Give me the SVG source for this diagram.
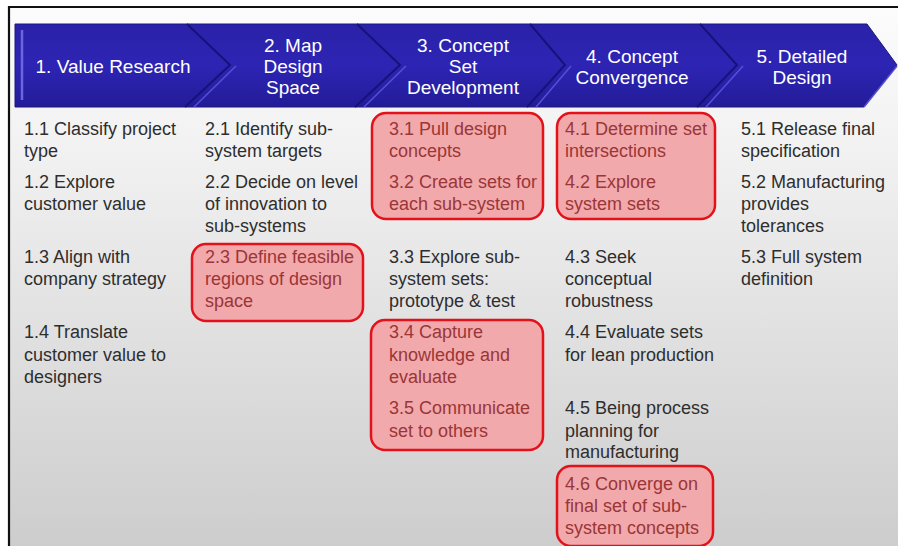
<svg xmlns="http://www.w3.org/2000/svg" width="898" height="546" viewBox="0 0 898 546">
<defs>
<linearGradient id="bg" x1="0" y1="0" x2="0" y2="1">
<stop offset="0" stop-color="#fcfcfc"/>
<stop offset="0.25" stop-color="#f2f2f2"/>
<stop offset="0.55" stop-color="#e3e3e3"/>
<stop offset="1" stop-color="#cdcdcd"/>
</linearGradient>
<linearGradient id="hd" x1="0" y1="0" x2="0" y2="1">
<stop offset="0" stop-color="#2a22a8"/>
<stop offset="0.5" stop-color="#2d24b4"/>
<stop offset="1" stop-color="#231c98"/>
</linearGradient>
<style>
.h{font-family:"Liberation Sans",Arial,sans-serif;font-size:19px;fill:#ffffff;text-anchor:middle}
.t{font-family:"Liberation Sans",Arial,sans-serif;font-size:18px;fill:#2e2e2e}
.r{fill:#f2a9ab;stroke:#e3121a;stroke-width:2.5}
.rt{font-family:"Liberation Sans",Arial,sans-serif;font-size:18px;fill:#9a3638}
.sd{fill:none;stroke:#17127a;stroke-width:2}
.sl{fill:none;stroke:#5550d6;stroke-width:1.5}
</style>
</defs>
<rect x="0" y="0" width="898" height="546" fill="#ffffff"/>
<rect x="10" y="8" width="888" height="538" fill="url(#bg)"/>
<line x1="9" y1="7" x2="898" y2="7" stroke="#111" stroke-width="2"/>
<line x1="9" y1="6" x2="9" y2="546" stroke="#111" stroke-width="2.2"/>

<g id="header">
<polygon points="15,24 867,24 897,65 864,107 15,107" fill="url(#hd)" stroke="#1c1680" stroke-width="1"/>
<line x1="22" y1="30" x2="22" y2="100" stroke="#6a66e0" stroke-width="2.5"/>
<g id="separators">
<polyline class="sd" points="187,24 230,65 185,107"/>
<polyline class="sl" points="236,66 194,107"/>
<polyline class="sd" points="357,24 400,65 355,107"/>
<polyline class="sl" points="406,66 364,107"/>
<polyline class="sd" points="530,24 565,65 527,107"/>
<polyline class="sl" points="571,66 536,107"/>
<polyline class="sd" points="700,24 737,65 697,107"/>
<polyline class="sl" points="743,66 706,107"/>
<polyline class="sl" points="897,66 864,107"/>
</g>
</g>

<g id="phase1"><text class="h" x="113" y="73">1. Value Research</text></g>
<g id="phase2"><text class="h" x="293" y="52">2. Map</text><text class="h" x="293" y="73">Design</text><text class="h" x="293" y="94">Space</text></g>
<g id="phase3"><text class="h" x="463" y="52">3. Concept</text><text class="h" x="463" y="73">Set</text><text class="h" x="463" y="94">Development</text></g>
<g id="phase4"><text class="h" x="632" y="63">4. Concept</text><text class="h" x="632" y="84">Convergence</text></g>
<g id="phase5"><text class="h" x="802" y="63">5. Detailed</text><text class="h" x="802" y="84">Design</text></g>

<g id="highlights">
<rect class="r" x="192" y="244" width="171" height="77" rx="14"/>
<rect class="r" x="372" y="113" width="171" height="106" rx="14"/>
<rect class="r" x="557" y="113" width="158" height="106" rx="14"/>
<rect class="r" x="371" y="320" width="172" height="130" rx="14"/>
<rect class="r" x="557" y="466" width="156" height="80" rx="14"/>
</g>

<g id="col1">
<text class="t" x="24" y="135">1.1 Classify project</text>
<text class="t" x="24" y="157">type</text>
<text class="t" x="24" y="188">1.2 Explore</text>
<text class="t" x="24" y="210">customer value</text>
<text class="t" x="24" y="263">1.3 Align with</text>
<text class="t" x="24" y="285">company strategy</text>
<text class="t" x="24" y="338">1.4 Translate</text>
<text class="t" x="24" y="361">customer value to</text>
<text class="t" x="24" y="383">designers</text>
</g>

<g id="col2">
<text class="t" x="205" y="135">2.1 Identify sub-</text>
<text class="t" x="205" y="157">system targets</text>
<text class="t" x="205" y="188">2.2 Decide on level</text>
<text class="t" x="205" y="210">of innovation to</text>
<text class="t" x="205" y="232">sub-systems</text>
<text class="rt" x="205" y="263">2.3 Define feasible</text>
<text class="rt" x="205" y="285">regions of design</text>
<text class="rt" x="205" y="307">space</text>
</g>

<g id="col3">
<text class="rt" x="389" y="135">3.1 Pull design</text>
<text class="rt" x="389" y="157">concepts</text>
<text class="rt" x="389" y="188">3.2 Create sets for</text>
<text class="rt" x="389" y="210">each sub-system</text>
<text class="t" x="389" y="263">3.3 Explore sub-</text>
<text class="t" x="389" y="285">system sets:</text>
<text class="t" x="389" y="307">prototype &amp; test</text>
<text class="rt" x="389" y="338">3.4 Capture</text>
<text class="rt" x="389" y="361">knowledge and</text>
<text class="rt" x="389" y="383">evaluate</text>
<text class="rt" x="389" y="414">3.5 Communicate</text>
<text class="rt" x="389" y="437">set to others</text>
</g>

<g id="col4">
<text class="rt" x="565" y="135">4.1 Determine set</text>
<text class="rt" x="565" y="157">intersections</text>
<text class="rt" x="565" y="188">4.2 Explore</text>
<text class="rt" x="565" y="210">system sets</text>
<text class="t" x="565" y="263">4.3 Seek</text>
<text class="t" x="565" y="285">conceptual</text>
<text class="t" x="565" y="307">robustness</text>
<text class="t" x="565" y="338">4.4 Evaluate sets</text>
<text class="t" x="565" y="361">for lean production</text>
<text class="t" x="565" y="414">4.5 Being process</text>
<text class="t" x="565" y="437">planning for</text>
<text class="t" x="565" y="458">manufacturing</text>
<text class="rt" x="565" y="490">4.6 Converge on</text>
<text class="rt" x="565" y="512">final set of sub-</text>
<text class="rt" x="565" y="534">system concepts</text>
</g>

<g id="col5">
<text class="t" x="741" y="135">5.1 Release final</text>
<text class="t" x="741" y="157">specification</text>
<text class="t" x="741" y="188">5.2 Manufacturing</text>
<text class="t" x="741" y="210">provides</text>
<text class="t" x="741" y="232">tolerances</text>
<text class="t" x="741" y="263">5.3 Full system</text>
<text class="t" x="741" y="285">definition</text>
</g>
</svg>
